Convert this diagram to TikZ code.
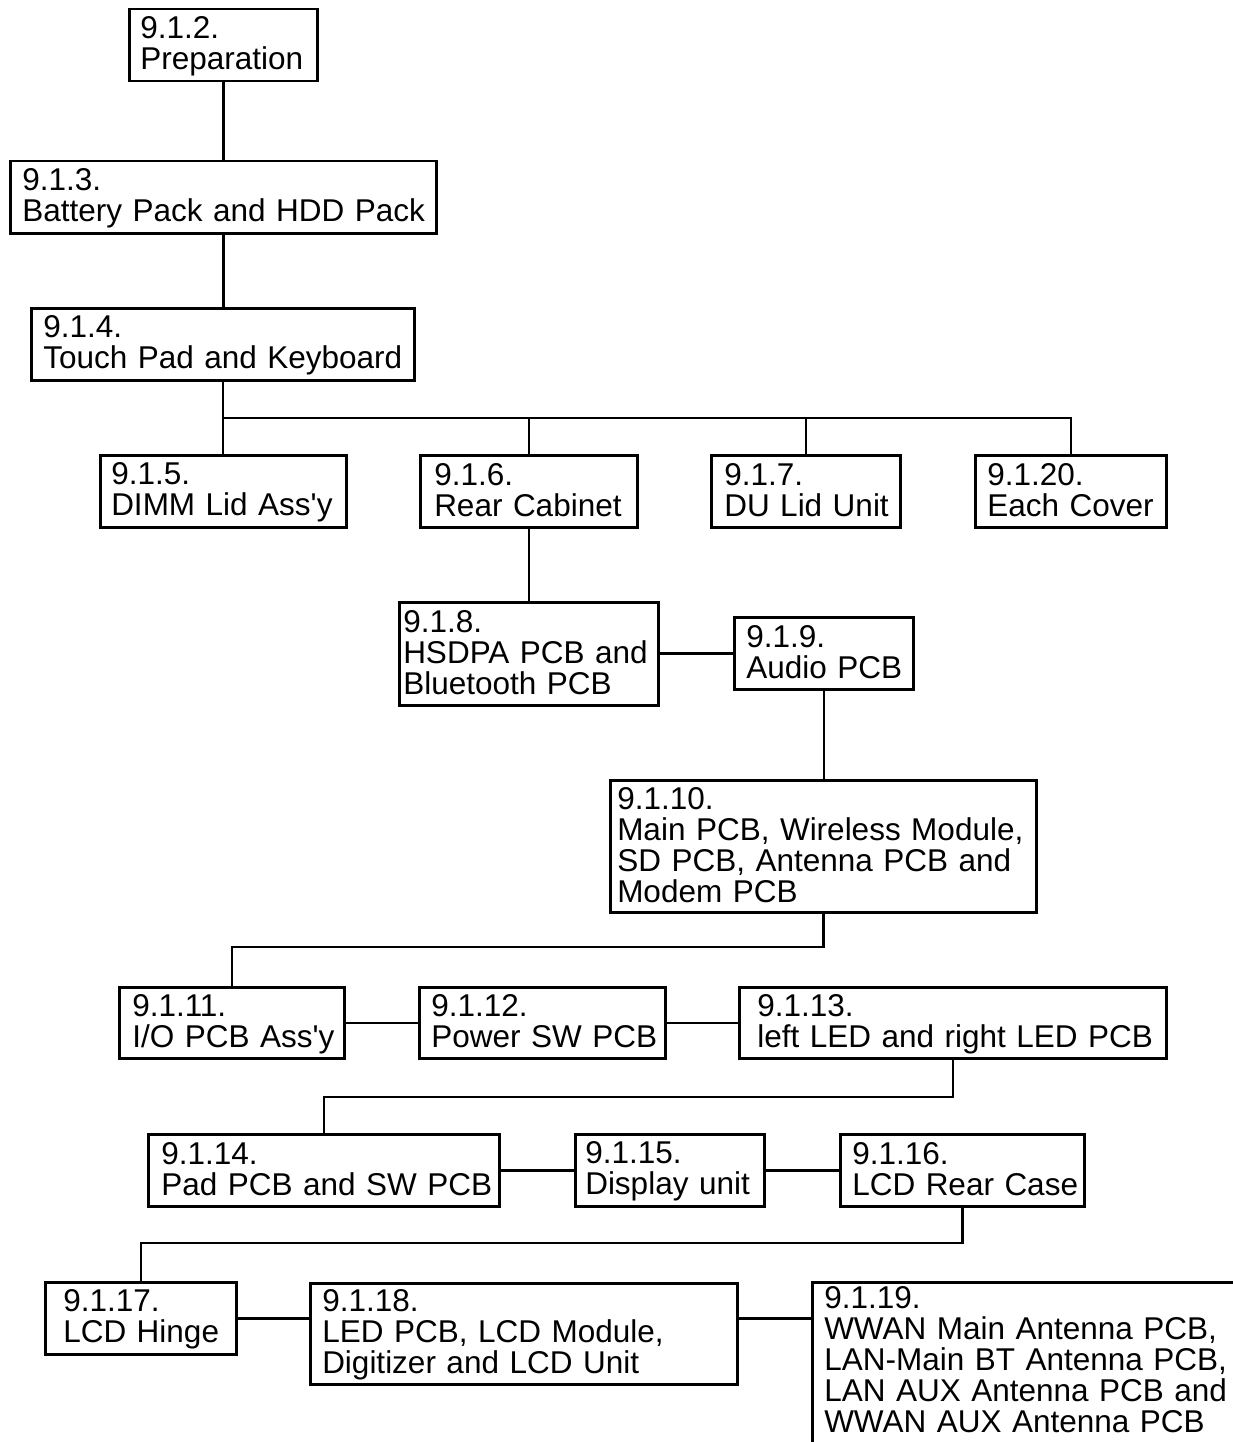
\documentclass[tikz,border=0pt]{standalone}
\usepackage{fontspec}
\setmainfont{Liberation Sans}[Ligatures=TeXOff]
\newcommand\mystrut{\rule[-6pt]{0pt}{31pt}}
\newcommand\oneline[1]{\mbox{#1}}
\tikzset{
  box/.style={draw, line width=2.5pt, anchor=north west, align=left, inner ysep=0pt,
    font=\fontsize{31.5pt}{31pt}\selectfont,
    execute at begin node={\lineskiplimit=-100pt\relax\mystrut},
    execute at end node={\mystrut}},
  link/.style={line width=2.5pt},
}
\begin{document}
\begin{tikzpicture}[x=1pt,y=-1pt]
\useasboundingbox (0,0) rectangle (1233,1442);
\clip (0,0) rectangle (1233,1442);
\fill[white] (0,0) rectangle (1233,1442);

\node[box, minimum height=72pt, inner xsep=11pt, text width=166pt] (B2) at (128,8) {\oneline{9.1.2.}\\\oneline{Preparation}};
\node[box, minimum height=72pt, inner xsep=12pt, text width=402pt] (B3) at (9,160) {\oneline{9.1.3.}\\\oneline{Battery Pack and HDD Pack}};
\node[box, minimum height=72pt, inner xsep=12pt, text width=359pt] (B4) at (30,307) {\oneline{9.1.4.}\\\oneline{Touch Pad and Keyboard}};
\node[box, minimum height=72pt, inner xsep=11pt, text width=224pt] (B5) at (99,454) {\oneline{9.1.5.}\\\oneline{DIMM Lid Ass'y}};
\node[box, minimum height=72pt, inner xsep=14pt, text width=189pt] (B6) at (419,454) {\oneline{9.1.6.}\\\oneline{Rear Cabinet}};
\node[box, minimum height=72pt, inner xsep=13pt, text width=163pt] (B7) at (710,454) {\oneline{9.1.7.}\\\oneline{DU Lid Unit}};
\node[box, minimum height=72pt, inner xsep=12pt, text width=167pt] (B20) at (974,454) {\oneline{9.1.20.}\\\oneline{Each Cover}};
\node[box, minimum height=103pt, inner xsep=4pt, text width=251pt] (B8) at (398,601) {\oneline{9.1.8.}\\\oneline{HSDPA PCB and}\\\oneline{Bluetooth PCB}};
\node[box, minimum height=72pt, inner xsep=12pt, text width=155pt] (B9) at (733,616) {\oneline{9.1.9.}\\\oneline{Audio PCB}};
\node[box, minimum height=132pt, inner xsep=7pt, text width=412pt] (B10) at (609,779) {\oneline{9.1.10.}\\\oneline{Main PCB, Wireless Module,}\\\oneline{SD PCB, Antenna PCB and}\\\oneline{Modem PCB}};
\node[box, minimum height=71pt, inner xsep=13pt, text width=199pt] (B11) at (118,986) {\oneline{9.1.11.}\\\oneline{I/O PCB Ass'y}};
\node[box, minimum height=71pt, inner xsep=12pt, text width=222pt] (B12) at (418,986) {\oneline{9.1.12.}\\\oneline{Power SW PCB}};
\node[box, minimum height=71pt, inner xsep=18pt, text width=391pt] (B13) at (738,986) {\oneline{9.1.13.}\\\oneline{left LED and right LED PCB}};
\node[box, minimum height=72pt, inner xsep=13pt, text width=325pt] (B14) at (147,1133) {\oneline{9.1.14.}\\\oneline{Pad PCB and SW PCB}};
\node[box, minimum height=72pt, inner xsep=10pt, text width=169pt] (B15) at (574,1133) {\oneline{9.1.15.}\\\oneline{Display unit}};
\node[box, minimum height=72pt, inner xsep=12pt, text width=220pt] (B16) at (839,1133) {\oneline{9.1.16.}\\\oneline{LCD Rear Case}};
\node[box, minimum height=72pt, inner xsep=18pt, text width=155pt] (B17) at (44,1281) {\oneline{9.1.17.}\\\oneline{LCD Hinge}};
\node[box, minimum height=101pt, inner xsep=12pt, text width=403pt] (B18) at (309,1282) {\oneline{9.1.18.}\\\oneline{LED PCB, LCD Module,}\\\oneline{Digitizer and LCD Unit}};
\node[box, minimum height=0pt, inner ysep=1pt, inner xsep=12pt, text width=436pt,
  execute at end node={\rule[-30pt]{0pt}{1pt}}] (B19) at (811,1281) {\oneline{9.1.19.}\\\oneline{WWAN Main Antenna PCB,}\\\oneline{LAN-Main BT Antenna PCB,}\\\oneline{LAN AUX Antenna PCB and}\\\oneline{WWAN AUX Antenna PCB}};

\coordinate (bus1) at (0,418);
\coordinate (bus2) at (0,947);
\coordinate (bus3) at (0,1097);
\coordinate (bus4) at (0,1243);

\draw[link] (B2.south) -- (B2.south |- B3.north);
\draw[link] (B3.south) -- (B3.south |- B4.north);
\draw[link] (B4.south) -- (B4.south |- B5.north);
\draw[link] (B4.south |- bus1) -| (B20.north);
\draw[link] (B6.north) -- (B6.north |- bus1);
\draw[link] (B7.north) -- (B7.north |- bus1);
\draw[link] (B6.south) -- (B6.south |- B8.north);
\draw[link] (B8.east |- B9.west) -- (B9.west);
\draw[link] (B9.south) -- (B9.south |- B10.north);
\draw[link] (B10.south) -- (B10.south |- bus2) -| (B11.north);
\draw[link] (B11.east) -- (B12.west);
\draw[link] (B12.east) -- (B13.west);
\draw[link] (B13.south) -- (B13.south |- bus3) -| (B14.north);
\draw[link] (B14.east) -- (B15.west);
\draw[link] (B15.east) -- (B16.west);
\draw[link] (B16.south) -- (B16.south |- bus4) -| (B17.north);
\draw[link] (B17.east) -- (B17.east -| B18.west);
\draw[link] (B17.east -| B18.east) -- (B17.east -| B19.west);
\end{tikzpicture}
\end{document}
